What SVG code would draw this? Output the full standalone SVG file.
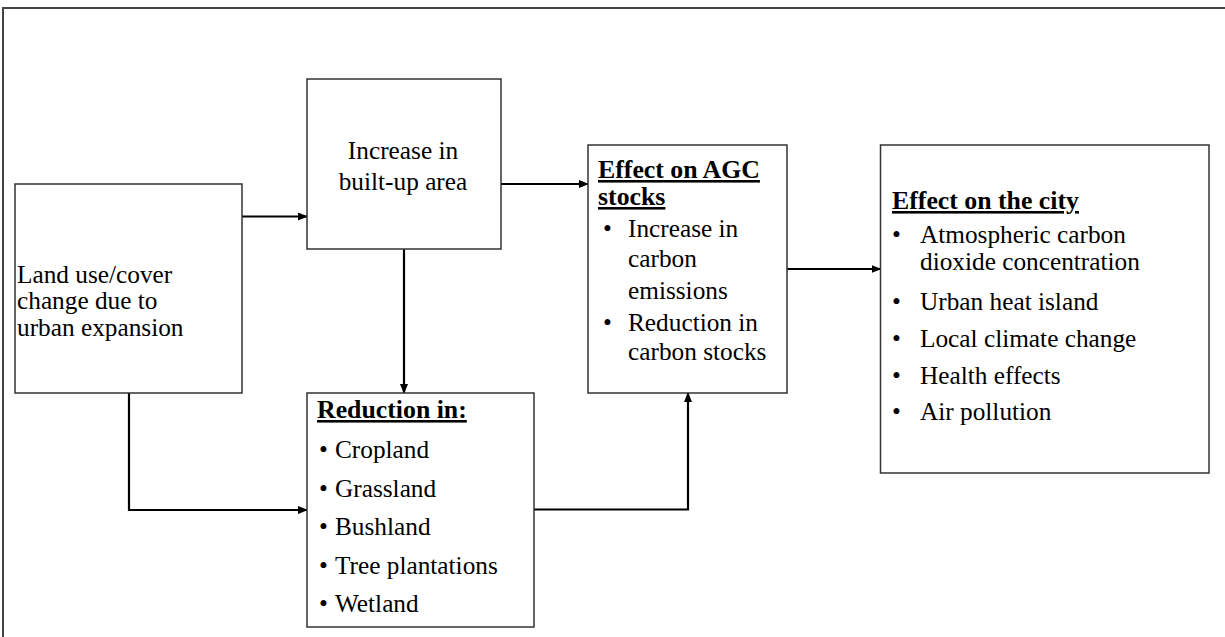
<svg xmlns="http://www.w3.org/2000/svg" width="1225" height="637" viewBox="0 0 1225 637">
<defs>
<marker id="ah" markerWidth="10" markerHeight="8" refX="9" refY="4" orient="auto" markerUnits="userSpaceOnUse">
<path d="M0,0 L10,4 L0,8 Z" fill="#000"/>
</marker>
</defs>
<style>
.box{fill:#fff;stroke:#333;stroke-width:1.5}
.frame{fill:none;stroke:#444;stroke-width:2}
.t{font-family:'Liberation Serif','DejaVu Serif',serif;font-size:25.3px;fill:#000}
.h{font-weight:bold;text-decoration:underline;font-size:25.8px}
.c{stroke:#000;stroke-width:2.2;fill:none}
</style>
<rect class="frame" x="3" y="8" width="1240" height="650"/>
<g id="connectors">
<path class="c" d="M242,216.5 L307,216.5" marker-end="url(#ah)"/>
<path class="c" d="M501,184 L588,184" marker-end="url(#ah)"/>
<path class="c" d="M787,269 L880.5,269" marker-end="url(#ah)"/>
<path class="c" d="M404,249 L404,393" marker-end="url(#ah)"/>
<path class="c" d="M129,393 L129,510 L307,510" marker-end="url(#ah)"/>
<path class="c" d="M534,509.5 L688,509.5 L688,393" marker-end="url(#ah)"/>
</g>
<g id="land-use">
<rect class="box" x="15" y="184" width="227" height="209"/>
<text class="t" x="17" y="282.5">Land use/cover</text>
<text class="t" x="17" y="309">change due to</text>
<text class="t" x="17" y="335.5">urban expansion</text>
</g>
<g id="built-up">
<rect class="box" x="307" y="79" width="194" height="170"/>
<text class="t" x="403" y="159" text-anchor="middle">Increase in</text>
<text class="t" x="403" y="189.5" text-anchor="middle">built-up area</text>
</g>
<g id="agc">
<rect class="box" x="588" y="145" width="199" height="248"/>
<text class="t h" x="598" y="178">Effect on AGC</text>
<text class="t h" x="598" y="205">stocks</text>
<text class="t" x="603" y="236.5">•</text>
<text class="t" x="628" y="236.5">Increase in</text>
<text class="t" x="628" y="267">carbon</text>
<text class="t" x="628" y="299">emissions</text>
<text class="t" x="603" y="331">•</text>
<text class="t" x="628" y="331">Reduction in</text>
<text class="t" x="628" y="360">carbon  stocks</text>
</g>
<g id="city">
<rect class="box" x="880.5" y="145" width="328.5" height="328"/>
<text class="t h" x="892" y="209">Effect on the city</text>
<text class="t" x="892" y="243">•</text>
<text class="t" x="920" y="243">Atmospheric  carbon</text>
<text class="t" x="920" y="270">dioxide concentration</text>
<text class="t" x="892" y="310">•</text>
<text class="t" x="920" y="310">Urban heat  island</text>
<text class="t" x="892" y="347">•</text>
<text class="t" x="920" y="347">Local climate change</text>
<text class="t" x="892" y="383.5">•</text>
<text class="t" x="920" y="383.5">Health effects</text>
<text class="t" x="892" y="420">•</text>
<text class="t" x="920" y="420">Air pollution</text>
</g>
<g id="reduction">
<rect class="box" x="307" y="393" width="227" height="234"/>
<text class="t h" x="317" y="418">Reduction in:</text>
<text class="t" x="319" y="458">•</text>
<text class="t" x="335" y="458">Cropland</text>
<text class="t" x="319" y="496.5">•</text>
<text class="t" x="335" y="496.5">Grassland</text>
<text class="t" x="319" y="535">•</text>
<text class="t" x="335" y="535">Bushland</text>
<text class="t" x="319" y="573.5">•</text>
<text class="t" x="335" y="573.5">Tree plantations</text>
<text class="t" x="319" y="611.5">•</text>
<text class="t" x="335" y="611.5">Wetland</text>
</g>
</svg>
